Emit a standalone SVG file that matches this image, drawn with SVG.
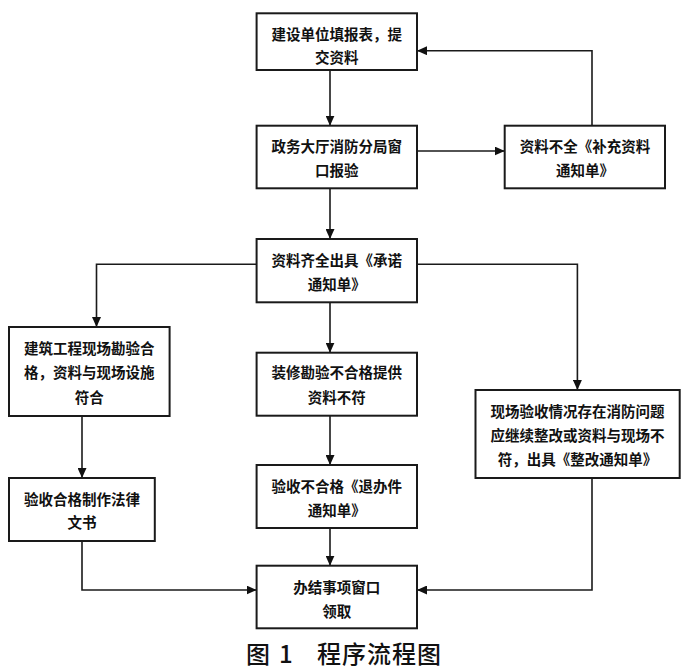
<svg xmlns="http://www.w3.org/2000/svg" width="700" height="670" viewBox="0 0 700 670">
<style>
.box{fill:#fff;stroke:#1a1a1a;stroke-width:2}
.t{font-family:"Noto Sans CJK SC","Noto Sans CJK JP",sans-serif;font-size:14.5px;font-weight:bold;fill:#111;text-anchor:middle;dominant-baseline:central}
.cap{font-family:"Noto Sans CJK SC",sans-serif;font-size:24px;font-weight:500;fill:#111;dominant-baseline:central}
.ln{fill:none;stroke:#1a1a1a;stroke-width:1.6;marker-end:url(#ah)}
</style>
<defs>
<marker id="ah" markerUnits="userSpaceOnUse" markerWidth="10" markerHeight="9" refX="10" refY="4.5" orient="auto">
<path d="M0,0 L10,4.5 L0,9 z" fill="#111"/>
</marker>
</defs>
<rect width="700" height="670" fill="#fff"/>
<g id="connectors">
<path class="ln" d="M330,70 V125.7"/>
<path class="ln" d="M417,151 H504.7"/>
<path class="ln" d="M592,125.7 V50.7 H417"/>
<path class="ln" d="M330,188.3 V239"/>
<path class="ln" d="M256.6,264.3 H96.5 V327"/>
<path class="ln" d="M330,302.3 V352.7"/>
<path class="ln" d="M417,264.3 H577.4 V390"/>
<path class="ln" d="M82,416 V478"/>
<path class="ln" d="M330,415.7 V465"/>
<path class="ln" d="M82,541 V590 H256.6"/>
<path class="ln" d="M330,528 V565.7"/>
<path class="ln" d="M592,478 V590 H417"/>
</g>
<g id="n1"><rect class="box" x="256.6" y="13.3" width="160.4" height="56.7"/><text class="t" x="336.8" y="33.3">建设单位填报表，提</text><text class="t" x="336.8" y="56.7">交资料</text></g>
<g id="n2"><rect class="box" x="256.6" y="125.7" width="160.4" height="62.6"/><text class="t" x="336.8" y="145.5">政务大厅消防分局窗</text><text class="t" x="336.8" y="169.5">口报验</text></g>
<g id="n3"><rect class="box" x="504.7" y="125.7" width="160.3" height="62.6"/><text class="t" x="584.9" y="145.5">资料不全《补充资料</text><text class="t" x="584.9" y="169.5">通知单》</text></g>
<g id="n4"><rect class="box" x="256.6" y="239" width="160.4" height="63.3"/><text class="t" x="336.8" y="259">资料齐全出具《承诺</text><text class="t" x="336.8" y="283">通知单》</text></g>
<g id="n5"><rect class="box" x="9" y="327" width="160.6" height="89"/><text class="t" x="89.3" y="347">建筑工程现场勘验合</text><text class="t" x="89.3" y="371.7">格，资料与现场设施</text><text class="t" x="89.3" y="396.4">符合</text></g>
<g id="n6"><rect class="box" x="256.6" y="352.7" width="160.4" height="63"/><text class="t" x="336.8" y="371.7">装修勘验不合格提供</text><text class="t" x="336.8" y="396">资料不符</text></g>
<g id="n7"><rect class="box" x="475.5" y="390" width="204.2" height="88"/><text class="t" x="577.6" y="410">现场验收情况存在消防问题</text><text class="t" x="577.6" y="434.5">应继续整改或资料与现场不</text><text class="t" x="577.6" y="458.5">符，出具《整改通知单》</text></g>
<g id="n8"><rect class="box" x="9" y="478" width="145.8" height="63"/><text class="t" x="81.9" y="498.3">验收合格制作法律</text><text class="t" x="81.9" y="521.7">文书</text></g>
<g id="n9"><rect class="box" x="256.6" y="465" width="160.4" height="63"/><text class="t" x="336.8" y="485">验收不合格《退办件</text><text class="t" x="336.8" y="509.3">通知单》</text></g>
<g id="n10"><rect class="box" x="256.6" y="565.7" width="160.4" height="62.6"/><text class="t" x="336.8" y="586">办结事项窗口</text><text class="t" x="336.8" y="610">领取</text></g>
<text class="cap" y="652"><tspan x="246">图</tspan><tspan x="279">1</tspan><tspan x="317" letter-spacing="1">程序流程图</tspan></text>
</svg>
